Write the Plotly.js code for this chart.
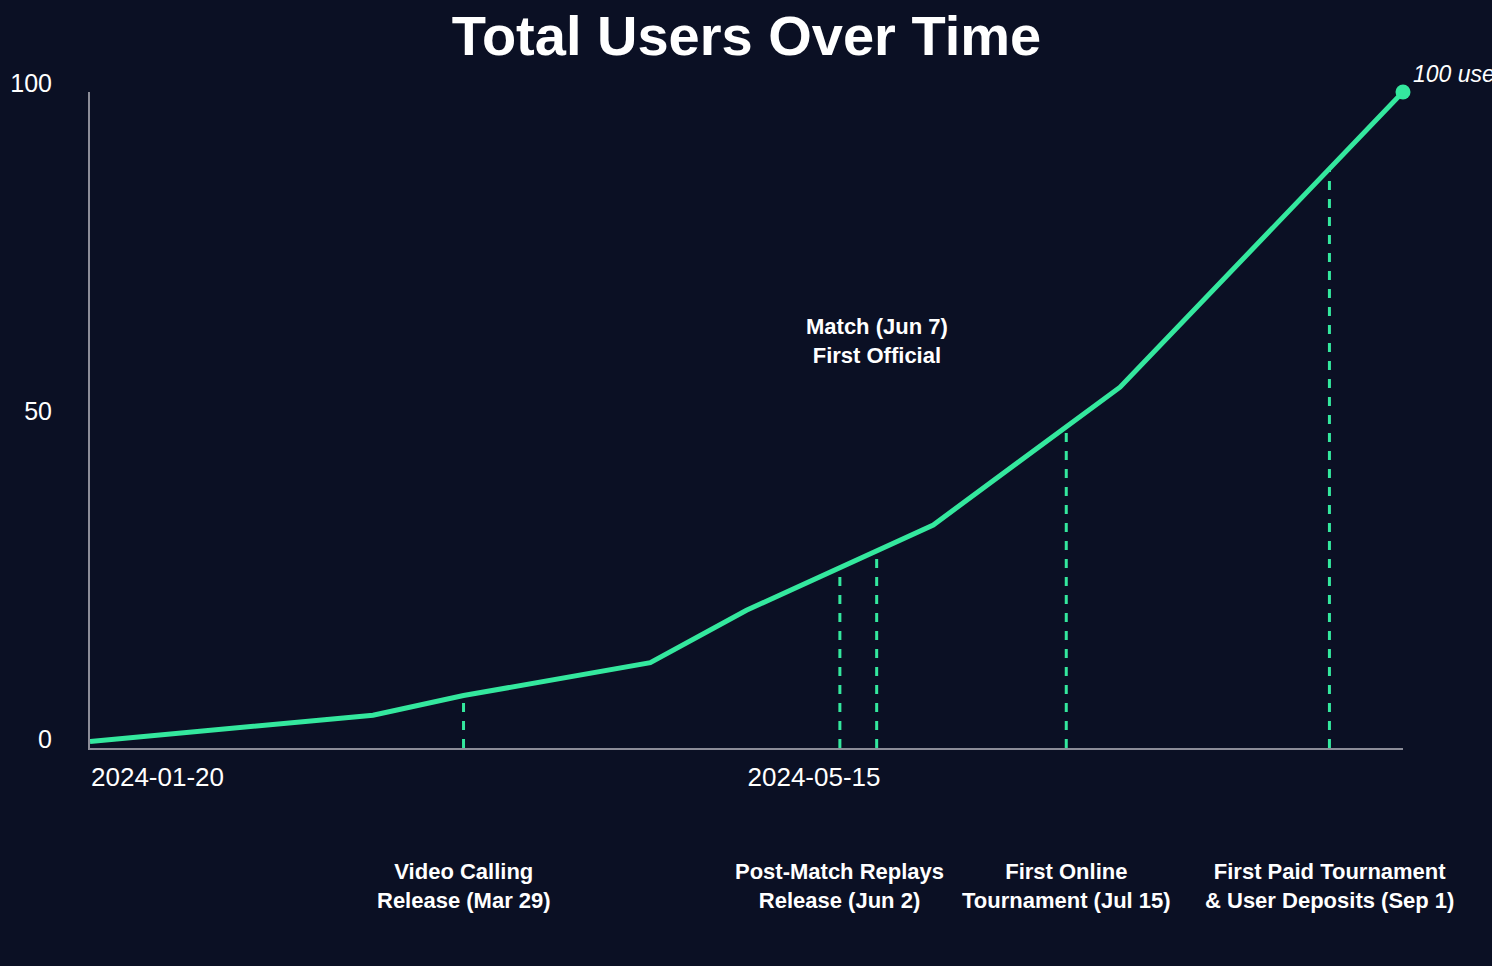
<!DOCTYPE html>
<html>
<head>
<meta charset="utf-8">
<script src="https://cdn.plot.ly/plotly-3.0.1.min.js"></script>
<style>
  html, body { margin: 0; padding: 0; background: #0b1024; }
  #chart { width: 1492px; height: 966px; }
</style>
</head>
<body>
<div id="chart"></div>
<script>
// ---- data ----
const dates = ['2024-01-20', '2024-03-10', '2024-03-26', '2024-04-28', '2024-05-15', '2024-06-17', '2024-07-20', '2024-09-08'];
const users = [1, 5, 8, 13, 21, 34, 55, 100];

const tickDates = ['2024-01-20', '2024-05-15', '2024-09-08'];
const yTicks = [0, 50, 100];

const eventDates = ['2024-03-26', '2024-05-31 12:00', '2024-06-07', '2024-07-10 12:00', '2024-08-26'];
const eventLabels = [
  'Video Calling<br>Release (Mar 29)',
  'Post-Match Replays<br>Release (Jun 2)',
  'Match (Jun 7)<br>First Official',
  'First Online<br>Tournament (Jul 15)',
  'First Paid Tournament<br>& User Deposits (Sep 1)'
];
const eventLabelInPlot = [false, false, true, false, false];
const eventLabelY = [null, null, 62, null, null];

const endLabel = '100 users';

// ---- helpers ----
const GREEN = '#34e89e';
const BG = '#0b1024';
const AXIS = '#8c8d98';
const FONT = 'Liberation Sans, Arial, sans-serif';

function t(d) {
  const s = d.indexOf(' ') >= 0 ? d.replace(' ', 'T') + ':00Z' : d + 'T00:00:00Z';
  return new Date(s).getTime();
}
function interp(d) {
  const x = t(d);
  for (let i = 0; i < dates.length - 1; i++) {
    const a = t(dates[i]), b = t(dates[i + 1]);
    if (x >= a && x <= b) {
      return users[i] + (users[i + 1] - users[i]) * (x - a) / (b - a);
    }
  }
  return users[users.length - 1];
}

const lineTrace = {
  type: 'scatter',
  mode: 'lines',
  x: dates,
  y: users,
  line: { color: GREEN, width: 5 },
  hoverinfo: 'x+y',
  cliponaxis: false,
  showlegend: false
};
const endTrace = {
  type: 'scatter',
  mode: 'markers',
  x: [dates[dates.length - 1]],
  y: [users[users.length - 1]],
  marker: { color: GREEN, size: 15 },
  cliponaxis: false,
  showlegend: false
};

const shapes = eventDates.map(d => ({
  type: 'line', xref: 'x', yref: 'y',
  x0: d, x1: d, y0: 0, y1: interp(d),
  line: { color: GREEN, width: 3, dash: 'dash' },
  layer: 'below'
}));

const annotations = eventDates.map((d, i) => {
  if (eventLabelInPlot[i]) {
    return {
      x: d, xref: 'x', y: eventLabelY[i], yref: 'y',
      text: '<b>' + eventLabels[i] + '</b>', showarrow: false,
      font: { family: FONT, size: 22, color: '#ffffff' },
      xanchor: 'center', yanchor: 'middle', align: 'center'
    };
  }
  return {
    x: d, xref: 'x', y: -0.21, yref: 'paper',
    text: '<b>' + eventLabels[i] + '</b>', showarrow: false,
    font: { family: FONT, size: 22, color: '#ffffff' },
    xanchor: 'center', yanchor: 'middle', align: 'center'
  };
});
annotations.push({
  x: dates[dates.length - 1], xref: 'x', y: users[users.length - 1], yref: 'y',
  text: '<i>' + endLabel + '</i>', showarrow: false,
  font: { family: FONT, size: 23, color: '#ffffff' },
  xanchor: 'left', yanchor: 'bottom', xshift: 8, yshift: 3
});

const layout = {
  width: 1492, height: 966,
  paper_bgcolor: BG, plot_bgcolor: BG,
  margin: { l: 90, r: 89, t: 92, b: 218 },
  font: { family: FONT, color: '#ffffff', size: 26 },
  title: {
    text: '<b>Total Users Over Time</b>',
    font: { family: FONT, size: 56, color: '#ffffff' },
    x: 0.5, xanchor: 'center', xref: 'paper',
    y: 1 - 35 / 966, yanchor: 'middle', yref: 'container'
  },
  xaxis: {
    type: 'date',
    range: [tickDates[0], tickDates[2]],
    tickmode: 'array', tickvals: tickDates, ticktext: tickDates,
    showgrid: false, zeroline: false,
    showline: true, linecolor: AXIS, linewidth: 2,
    ticks: '', ticklabelposition: 'outside right',
    ticklabelstandoff: 5,
    tickfont: { family: FONT, size: 26, color: '#ffffff' },
    fixedrange: true
  },
  yaxis: {
    range: [0, 100],
    tickmode: 'array', tickvals: yTicks,
    showgrid: false, zeroline: false,
    showline: true, linecolor: AXIS, linewidth: 2,
    ticks: '', ticklabelstandoff: 31, ticklabelshift: -9,
    tickfont: { family: FONT, size: 25, color: '#ffffff' },
    fixedrange: true
  },
  shapes: shapes,
  annotations: annotations,
  showlegend: false,
  hovermode: 'closest'
};

Plotly.newPlot('chart', [lineTrace, endTrace], layout, { displayModeBar: false });
</script>
</body>
</html>
